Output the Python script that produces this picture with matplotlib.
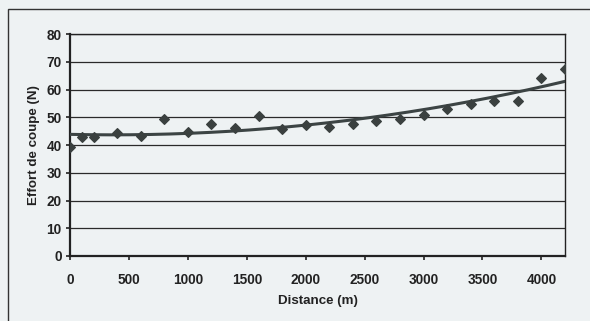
import numpy as np
import matplotlib.pyplot as plt
from matplotlib.patches import Rectangle

plt.rcParams['font.family'] = ['Liberation Sans', 'DejaVu Sans']

# donnees
distance = [0, 100, 200, 400, 600, 800, 1000, 1200, 1400, 1600, 1800, 2000,
            2200, 2400, 2600, 2800, 3000, 3200, 3400, 3600, 3800, 4000, 4200]
effort = [39.4, 42.8, 42.8, 44.2, 43.4, 49.3, 44.8, 47.5, 46.0, 50.5, 45.6, 47.2,
          46.4, 47.6, 48.8, 49.4, 50.7, 53.1, 54.7, 56.0, 56.0, 64.1, 67.3]
xticks = [0, 500, 1000, 1500, 2000, 2500, 3000, 3500, 4000]
yticks = [0, 10, 20, 30, 40, 50, 60, 70, 80]

bg = '#eef2f3'
fig = plt.figure(figsize=(5.9, 3.21), dpi=100, facecolor=bg)
ax = fig.add_axes([0.1186, 0.2025, 0.839, 0.6915])
ax.set_facecolor(bg)

# cadre exterieur
fig.patches.append(Rectangle((8/590, -0.05), 1.1, (321-9)/321 + 0.05, transform=fig.transFigure,
                             fill=False, edgecolor='#333333', linewidth=1.0))

# courbe de tendance polynomiale (ordre 2)
c = np.polyfit(distance, effort, 2)
xs = np.linspace(0, 4200, 200)
ax.plot(xs, np.polyval(c, xs), color='#3c4444', linewidth=2.2, zorder=3)

ax.scatter(distance, effort, marker='D', s=24, color='#3a403f', zorder=4)

ax.set_xlim(0, 4200)
ax.set_ylim(0, 80)
ax.set_xticks(xticks)
ax.set_yticks(yticks)
ax.yaxis.grid(True, color='#2a2a2a', linewidth=0.9)
ax.set_axisbelow(True)
for s in ax.spines.values():
    s.set_color('#222222')
    s.set_linewidth(1.0)
ax.spines['left'].set_linewidth(1.6)
ax.spines['bottom'].set_linewidth(1.6)
ax.tick_params(direction='out', length=3, width=1.2, colors='#222222', labelsize=9.8)
for lab in ax.get_xticklabels() + ax.get_yticklabels():
    lab.set_fontweight('bold')
ax.tick_params(axis='x', pad=9)
ax.tick_params(axis='y', pad=3)

ax.set_xlabel('Distance (m)', fontsize=9.6, fontweight='bold', color='#222222', labelpad=6)
ax.set_ylabel('Effort de coupe (N)', fontsize=9.6, fontweight='bold', color='#222222', labelpad=5)

fig.savefig('out.png', dpi=100, facecolor=bg)
